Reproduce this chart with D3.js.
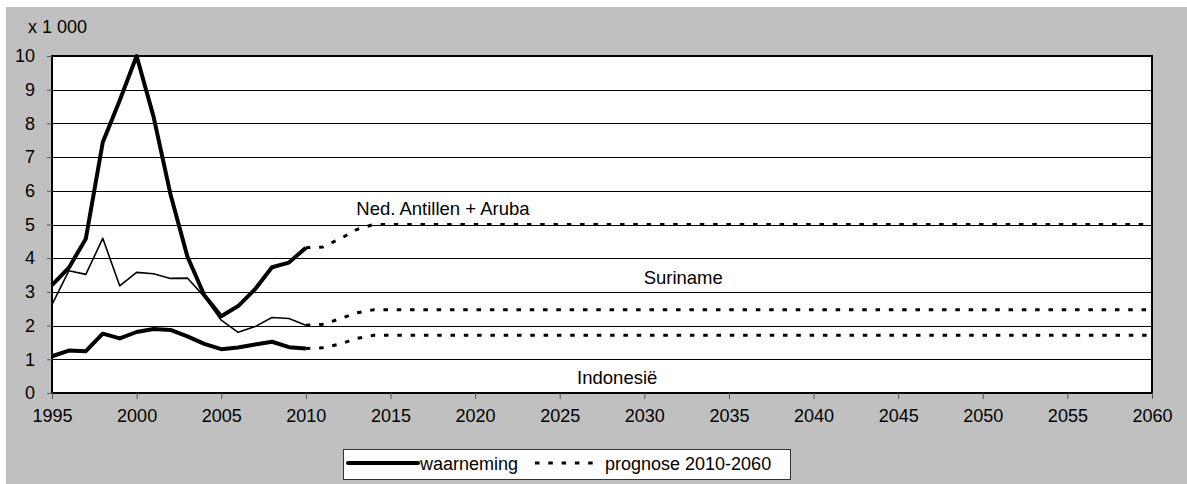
<!DOCTYPE html>
<html>
<head>
<meta charset="utf-8">
<script src="https://cdn.jsdelivr.net/npm/d3@7"></script>
<style>
  html, body { margin: 0; padding: 0; background: #fff; }
  svg { display: block; font-family: Arial, "Liberation Sans", sans-serif; }
</style>
</head>
<body>
<div id="chart"></div>
<script>
(function () {
  'use strict';

  // waarneming 1995-2010 (x 1 000)
  var jaren      = [1995, 1996, 1997, 1998, 1999, 2000, 2001, 2002, 2003, 2004, 2005, 2006, 2007, 2008, 2009, 2010];
  var antillen   = [3.2, 3.72, 4.58, 7.44, 8.68, 10.0, 8.2, 5.9, 4.05, 2.9, 2.28, 2.58, 3.08, 3.73, 3.87, 4.31];
  var suriname   = [2.62, 3.63, 3.52, 4.59, 3.18, 3.58, 3.54, 3.4, 3.41, 2.86, 2.16, 1.8, 1.97, 2.24, 2.21, 2.01];
  var indonesie  = [1.09, 1.26, 1.24, 1.76, 1.62, 1.81, 1.9, 1.87, 1.68, 1.46, 1.3, 1.35, 1.44, 1.52, 1.36, 1.32];

  // prognose 2010-2060
  var progJaren     = [2010, 2011, 2012, 2013, 2014, 2060];
  var progAntillen  = [4.31, 4.33, 4.57, 4.85, 5.0, 5.0];
  var progSuriname  = [2.01, 2.04, 2.2, 2.38, 2.47, 2.47];
  var progIndonesie = [1.32, 1.34, 1.45, 1.62, 1.71, 1.71];

  var xTicks = d3.range(1995, 2061, 5);
  var yTicks = d3.range(0, 11, 1);

  var W = 1187, H = 484;
  var mg = { top: 56, right: 35, bottom: 91, left: 52 };
  var w = W - mg.left - mg.right;
  var h = H - mg.top - mg.bottom;

  var svg = d3.select('#chart').append('svg')
    .attr('width', W).attr('height', H);

  // grey chart area
  svg.append('rect')
    .attr('x', 6).attr('y', 7)
    .attr('width', W - 6).attr('height', H - 7)
    .attr('fill', '#c0c0c0');

  var g = svg.append('g')
    .attr('transform', 'translate(' + mg.left + ',' + mg.top + ')');

  var x = d3.scaleLinear().domain([1995, 2060]).range([0, w]);
  var y = d3.scaleLinear().domain([0, 10]).range([h, 0]);

  g.append('rect')
    .attr('width', w).attr('height', h)
    .attr('fill', '#fff');

  // gridlines
  g.selectAll('line.grid').data(yTicks.slice(1, -1)).join('line')
    .attr('class', 'grid')
    .attr('x1', 0).attr('x2', w)
    .attr('y1', function (d) { return Math.round(y(d)) + 0.5; })
    .attr('y2', function (d) { return Math.round(y(d)) + 0.5; })
    .attr('stroke', '#000').attr('stroke-width', 1);

  // plot border
  g.append('rect')
    .attr('width', w).attr('height', h)
    .attr('fill', 'none')
    .attr('stroke', '#000').attr('stroke-width', 2);

  // x axis
  var xAxis = g.append('g').attr('transform', 'translate(0,' + h + ')')
    .call(d3.axisBottom(x).tickValues(xTicks).tickFormat(d3.format('d')).tickSize(6).tickPadding(10))
    .call(function (ax) { ax.select('.domain').remove(); });
  xAxis.selectAll('.tick line').attr('stroke', '#555');
  xAxis.selectAll('text')
    .attr('font-size', 18).attr('fill', '#000')
    .attr('font-family', 'Arial, "Liberation Sans", sans-serif');

  // y axis
  var yAxis = g.append('g')
    .call(d3.axisLeft(y).tickValues(yTicks).tickSize(5).tickPadding(12))
    .call(function (ax) { ax.select('.domain').remove(); });
  yAxis.selectAll('.tick line').attr('stroke', '#555');
  yAxis.selectAll('text')
    .attr('font-size', 18).attr('fill', '#000')
    .attr('font-family', 'Arial, "Liberation Sans", sans-serif');

  svg.append('text')
    .attr('x', 28).attr('y', 33)
    .attr('font-size', 18).attr('fill', '#000')
    .text('x 1 000');

  var line = d3.line()
    .x(function (d) { return x(d[0]); })
    .y(function (d) { return y(d[1]); });

  function pairs(xs, ys) {
    return xs.map(function (v, i) { return [v, ys[i]]; });
  }

  var series = [
    { obs: antillen,  prog: progAntillen,  width: 4 },
    { obs: suriname,  prog: progSuriname,  width: 1.6 },
    { obs: indonesie, prog: progIndonesie, width: 4 }
  ];

  series.forEach(function (s) {
    g.append('path')
      .attr('d', line(pairs(progJaren, s.prog)))
      .attr('fill', 'none')
      .attr('stroke', '#000').attr('stroke-width', 3)
      .attr('stroke-dasharray', '4.5,8.8');
    g.append('path')
      .attr('d', line(pairs(jaren, s.obs)))
      .attr('fill', 'none')
      .attr('stroke', '#000').attr('stroke-width', s.width)
      .attr('stroke-linejoin', 'round');
  });

  // series labels
  var labels = [
    { text: 'Ned. Antillen + Aruba', jaar: 2018.1, waarde: 5.29 },
    { text: 'Suriname',              jaar: 2032.3, waarde: 3.22 },
    { text: 'Indonesië',             jaar: 2028.4, waarde: 0.28 }
  ];
  g.selectAll('text.lbl').data(labels).join('text')
    .attr('class', 'lbl')
    .attr('x', function (d) { return x(d.jaar); })
    .attr('y', function (d) { return y(d.waarde); })
    .attr('text-anchor', 'middle')
    .attr('font-size', 18.5).attr('fill', '#000')
    .text(function (d) { return d.text; });

  // legend
  var lg = svg.append('g').attr('transform', 'translate(343,449)');
  lg.append('rect')
    .attr('x', 0.5).attr('y', 0.5)
    .attr('width', 447).attr('height', 30)
    .attr('fill', '#fff').attr('stroke', '#333').attr('stroke-width', 1);
  lg.append('line')
    .attr('x1', 5).attr('x2', 75).attr('y1', 14).attr('y2', 14)
    .attr('stroke', '#000').attr('stroke-width', 4).attr('stroke-linecap', 'round');
  lg.append('text')
    .attr('x', 77).attr('y', 21)
    .attr('font-size', 18).attr('fill', '#000')
    .text('waarneming');
  lg.append('line')
    .attr('x1', 192).attr('x2', 252).attr('y1', 14).attr('y2', 14)
    .attr('stroke', '#000').attr('stroke-width', 3)
    .attr('stroke-dasharray', '4.5,8.8');
  lg.append('text')
    .attr('x', 262).attr('y', 21)
    .attr('font-size', 18).attr('fill', '#000')
    .text('prognose 2010-2060');
}());
</script>
</body>
</html>
